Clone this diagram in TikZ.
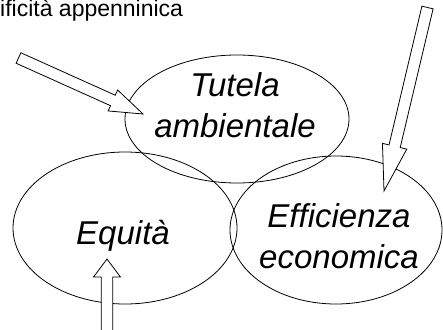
\documentclass[tikz,border=0pt]{standalone}
\usepackage{fontspec}
\setmainfont{Liberation Sans}
\usetikzlibrary{calc,shapes.geometric}

\tikzset{
  pillar/.style={draw, ellipse, line width=0.8pt, inner sep=0pt},
  pillar text/.style={inner sep=0pt, align=center,
    font=\fontsize{33}{41}\selectfont\itshape},
  fat arrow/.style={draw, fill=white, line width=0.8pt, line join=miter},
}
% block arrow: tail, tip, head length, head half width
\newcommand{\fatarrow}[4]{%
  \coordinate (neck) at ($(#2)!#3pt!(#1)$);
  \draw[fat arrow] ($(#1)!5.75pt!90:(#2)$) -- ($(neck)!5.75pt!90:(#2)$)
    -- ($(neck)!#4pt!90:(#2)$) -- (#2) -- ($(neck)!#4pt!-90:(#2)$)
    -- ($(neck)!5.75pt!-90:(#2)$) -- ($(#1)!5.75pt!-90:(#2)$) -- cycle;}

\begin{document}
\begin{tikzpicture}[x=1pt,y=-1pt]
 \useasboundingbox (0,0) rectangle (443,329);
 \clip (0,0) rectangle (443,329);
 \node[anchor=base west, inner sep=0pt, font=\fontsize{23}{27}\selectfont] (title) at (0,17) {ificità appenninica};
 % the three circles
 \node[pillar, minimum width=224pt, minimum height=128pt] (tutela) at (237,119) {};
 \node[pillar, minimum width=224pt, minimum height=152pt] (equita) at (125,228) {};
 \node[pillar, minimum width=212pt, minimum height=148pt] (efficienza) at (336,230) {};
 \node[pillar text] (tutela-text) at (235,105.5) {Tutela\\ambientale};
 \node[pillar text] (equita-text) at (123,236) {Equità};
 \node[pillar text] (efficienza-text) at (339,236.5) {Efficienza\\economica};
 % arrows
 \coordinate (in1) at (18.5,58);
 \coordinate (tip1) at (143,114);
 \coordinate (in2) at (427.5,7.5);
 \coordinate (tip2) at (384,191);
 \coordinate (in3) at (107,345);
 \coordinate (tip3) at (107,259);
 \fatarrow{in1}{tip1}{33}{11.5}
 \fatarrow{in2}{tip2}{46}{12.5}
 \fatarrow{in3}{tip3}{18}{13.5}
\end{tikzpicture}
\end{document}
